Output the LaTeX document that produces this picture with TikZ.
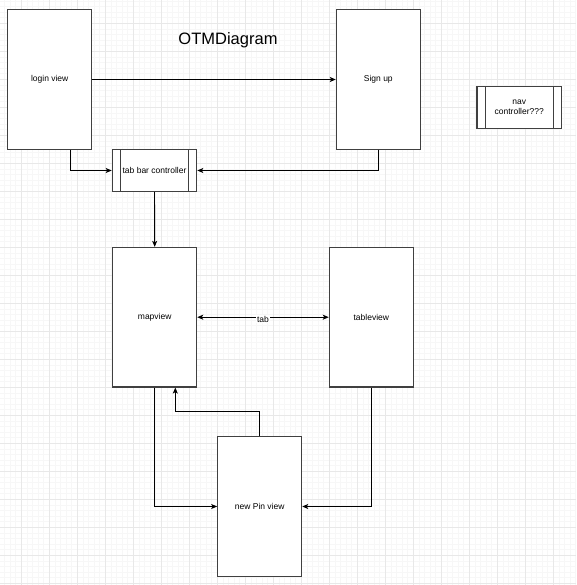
\documentclass[tikz,border=0pt]{standalone}
\usepackage{fontspec}
\setmainfont{Liberation Sans}
\usetikzlibrary{arrows.meta}
\definecolor{gridminor}{HTML}{F7F7F7}
\definecolor{gridmajor}{HTML}{E8E8E8}
\definecolor{boxline}{HTML}{404040}
\tikzset{
  viewbox/.style={draw=boxline, line width=1.1pt, fill=white, minimum width=84pt, minimum height=139.6pt, inner sep=0pt, font=\fontsize{8.5}{10}\selectfont},
  ctrlbox/.style={draw=boxline, line width=1.1pt, fill=white, minimum width=84.5pt, minimum height=41.6pt, inner sep=0pt, align=center, font=\fontsize{8.5}{10}\selectfont},
  arr/.style={draw=black, line width=0.9pt, -{Stealth[length=6pt,width=5pt,inset=1.5pt]}},
  biarr/.style={draw=black, line width=0.9pt, {Stealth[length=6pt,width=5pt,inset=1.5pt]}-{Stealth[length=6pt,width=5pt,inset=1.5pt]}},
}
\begin{document}
\begin{tikzpicture}[x=1pt,y=-1pt]
\useasboundingbox (0,0) rectangle (576,585);
\fill[white] (0,0) rectangle (576,585);
% minor grid
\foreach \i in {0,...,103} {
  \draw[gridminor, line width=0.5pt] ({4.5+5.6*\i},0) -- ({4.5+5.6*\i},585);
}
\foreach \i in {0,...,105} {
  \draw[gridminor, line width=0.5pt] (0,{0.9+5.6*\i}) -- (576,{0.9+5.6*\i});
}
% major grid
\foreach \i in {0,...,20} {
  \draw[gridmajor, line width=0.8pt] ({21.3+28*\i},0) -- ({21.3+28*\i},585);
}
\foreach \i in {0,...,20} {
  \draw[gridmajor, line width=0.8pt] (0,{23.3+28*\i}) -- (576,{23.3+28*\i});
}

\node[font=\fontsize{16.5}{18}\selectfont] (title) at (228,40) {OTMDiagram};

\node[viewbox, minimum height=139.4pt] (login) at (49.7,79.5) {login view};
\node[viewbox, minimum height=139.4pt] (signup) at (378.3,79.5) {Sign up};
\node[viewbox] (mapview) at (154.7,317.2) {mapview};
\node[viewbox] (tableview) at (371.3,317.2) {tableview};
\node[viewbox] (newpin) at (259.7,506.5) {new Pin view};

\node[ctrlbox] (tabbar) at (154.5,170.5) {tab bar controller};
\draw[boxline, line width=1.1pt] ([xshift=8.6pt]tabbar.north west) -- ([xshift=8.6pt]tabbar.south west);
\draw[boxline, line width=1.1pt] ([xshift=-8.6pt]tabbar.north east) -- ([xshift=-8.6pt]tabbar.south east);

\node[ctrlbox] (nav) at (519.2,107.5) {nav\\controller???};
\draw[boxline, line width=1.1pt] ([xshift=8.8pt]nav.north west) -- ([xshift=8.8pt]nav.south west);
\draw[boxline, line width=1.1pt] ([xshift=-8.8pt]nav.north east) -- ([xshift=-8.8pt]nav.south east);

% connectors
\draw[arr] (login.east) -- (signup.west);
\draw[arr] ([xshift=20.6pt]login.south) |- (tabbar.west);
\draw[arr] (signup.south) |- (tabbar.east);
\draw[arr] (tabbar.south) -- (mapview.north);
\draw[biarr] (mapview.east) -- (tableview.west)
  node[midway, fill=white, inner sep=1pt, yshift=-2pt, font=\fontsize{8.5}{10}\selectfont] (tablabel) {tab};
\draw[arr] (mapview.south) |- (newpin.west);
\draw[arr] (newpin.north) -- ++(0,-24.4) -| ([xshift=20.6pt]mapview.south);
\draw[arr] (tableview.south) |- (newpin.east);
\end{tikzpicture}
\end{document}
